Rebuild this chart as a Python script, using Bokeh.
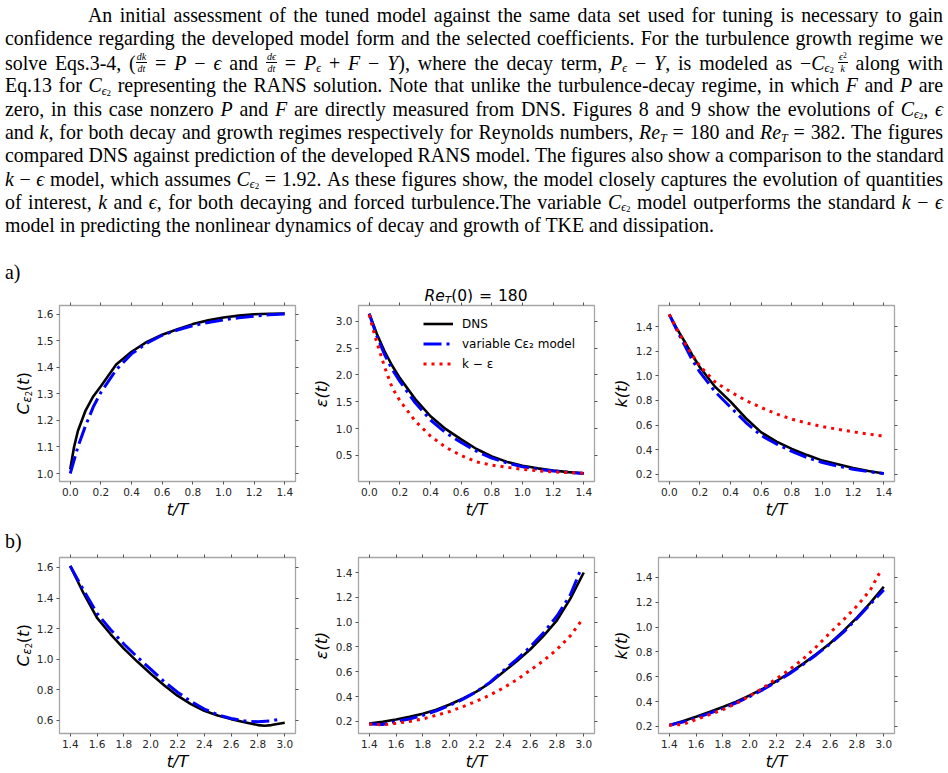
import numpy as np
from bokeh.plotting import figure
from bokeh.models import (Range1d, LinearAxis, FixedTicker, CustomJSTickFormatter,
                          PrintfTickFormatter, Legend, LegendItem, Div)
from bokeh.layouts import column, row
from bokeh.embed import file_html
from bokeh.resources import INLINE

# ---------------- data ----------------
# a) decaying turbulence, Re_T(0)=180
a1_t = [0.0, 0.025, 0.05, 0.1, 0.15, 0.2, 0.3, 0.4, 0.5, 0.6, 0.7, 0.8, 0.9, 1.0, 1.1, 1.2, 1.3, 1.4]
a1_dns = [1.016, 1.10, 1.16, 1.237, 1.29, 1.328, 1.41, 1.458, 1.495, 1.522, 1.543, 1.562, 1.576, 1.587, 1.594, 1.599, 1.601, 1.602]
a1_var = [1.0, 1.05, 1.10, 1.18, 1.25, 1.305, 1.39, 1.45, 1.49, 1.52, 1.54, 1.556, 1.568, 1.578, 1.586, 1.592, 1.597, 1.600]

a2_t = [0.0, 0.05, 0.1, 0.15, 0.2, 0.3, 0.4, 0.5, 0.6, 0.7, 0.8, 0.9, 1.0, 1.1, 1.2, 1.3, 1.4]
a2_dns = [3.14, 2.76, 2.44, 2.17, 1.94, 1.55, 1.23, 0.99, 0.80, 0.62, 0.48, 0.38, 0.31, 0.26, 0.22, 0.19, 0.17]
a2_var = [3.14, 2.72, 2.38, 2.10, 1.88, 1.48, 1.16, 0.92, 0.74, 0.58, 0.45, 0.36, 0.29, 0.245, 0.21, 0.185, 0.165]
a2_t_ke = [0.0, 0.025, 0.05, 0.075, 0.1, 0.15, 0.2, 0.25, 0.3, 0.4, 0.5, 0.6, 0.7, 0.8, 0.9, 1.0, 1.1, 1.2, 1.3, 1.4]
a2_ke = [3.12, 2.85, 2.60, 2.38, 2.15, 1.76, 1.52, 1.33, 1.14, 0.86, 0.65, 0.50, 0.38, 0.32, 0.28, 0.24, 0.215, 0.195, 0.18, 0.17]

a3_t = [0.0, 0.05, 0.1, 0.15, 0.2, 0.3, 0.4, 0.5, 0.6, 0.7, 0.8, 0.9, 1.0, 1.1, 1.2, 1.3, 1.4]
a3_dns = [1.50, 1.385, 1.28, 1.17, 1.07, 0.91, 0.79, 0.655, 0.54, 0.465, 0.405, 0.355, 0.31, 0.28, 0.25, 0.225, 0.205]
a3_var = [1.50, 1.37, 1.25, 1.13, 1.03, 0.87, 0.745, 0.62, 0.515, 0.445, 0.385, 0.335, 0.295, 0.265, 0.24, 0.22, 0.205]
a3_ke = [1.50, 1.38, 1.27, 1.17, 1.08, 0.95, 0.87, 0.80, 0.742, 0.69, 0.647, 0.615, 0.587, 0.565, 0.544, 0.526, 0.51]

# b) forced (growing) turbulence
b1_t = [1.4, 1.5, 1.6, 1.7, 1.8, 1.9, 2.0, 2.1, 2.2, 2.3, 2.4, 2.5, 2.6, 2.7, 2.8, 2.85, 2.9, 3.0]
b1_dns = [1.61, 1.43, 1.27, 1.165, 1.07, 0.985, 0.905, 0.83, 0.762, 0.707, 0.663, 0.632, 0.609, 0.588, 0.57, 0.566, 0.57, 0.585]
b1_t_var = [1.4, 1.5, 1.6, 1.7, 1.8, 1.9, 2.0, 2.1, 2.2, 2.3, 2.4, 2.5, 2.6, 2.7, 2.8, 2.9, 2.96]
b1_var = [1.61, 1.45, 1.30, 1.195, 1.10, 1.015, 0.935, 0.855, 0.785, 0.725, 0.675, 0.638, 0.613, 0.597, 0.591, 0.598, 0.608]

b2_t = [1.4, 1.5, 1.6, 1.7, 1.8, 1.9, 2.0, 2.1, 2.2, 2.3, 2.4, 2.5, 2.6, 2.7, 2.8, 2.9, 3.0]
b2_dns = [0.184, 0.198, 0.216, 0.237, 0.262, 0.295, 0.337, 0.385, 0.44, 0.51, 0.598, 0.685, 0.78, 0.89, 1.015, 1.19, 1.40]
b2_t_var = [1.4, 1.5, 1.6, 1.7, 1.8, 1.9, 2.0, 2.1, 2.2, 2.3, 2.4, 2.5, 2.6, 2.7, 2.8, 2.9, 2.98]
b2_var = [0.18, 0.175, 0.20, 0.22, 0.25, 0.285, 0.33, 0.38, 0.44, 0.515, 0.61, 0.70, 0.80, 0.915, 1.05, 1.22, 1.43]
b2_t_ke = [1.4, 1.5, 1.6, 1.7, 1.8, 1.9, 2.0, 2.1, 2.2, 2.3, 2.4, 2.5, 2.6, 2.7, 2.8, 2.9, 2.99]
b2_ke = [0.18, 0.172, 0.185, 0.20, 0.22, 0.25, 0.28, 0.32, 0.364, 0.413, 0.47, 0.535, 0.612, 0.69, 0.78, 0.89, 1.023]

b3_t = [1.4, 1.5, 1.6, 1.7, 1.8, 1.9, 2.0, 2.1, 2.2, 2.3, 2.4, 2.5, 2.6, 2.7, 2.8, 2.9, 3.0]
b3_dns = [0.21, 0.242, 0.278, 0.316, 0.356, 0.40, 0.45, 0.505, 0.566, 0.633, 0.706, 0.785, 0.87, 0.97, 1.077, 1.195, 1.325]
b3_var = [0.21, 0.235, 0.268, 0.305, 0.345, 0.39, 0.44, 0.497, 0.56, 0.627, 0.70, 0.78, 0.865, 0.96, 1.07, 1.185, 1.30]
b3_t_ke = [1.4, 1.5, 1.6, 1.7, 1.8, 1.9, 2.0, 2.1, 2.2, 2.3, 2.4, 2.5, 2.6, 2.7, 2.8, 2.9, 2.98]
b3_ke = [0.21, 0.215, 0.255, 0.295, 0.335, 0.385, 0.445, 0.51, 0.585, 0.66, 0.745, 0.845, 0.955, 1.06, 1.17, 1.30, 1.46]

# axis ranges and ticks
xr_a = (-0.07, 1.47)
xr_b = (1.32, 3.08)
yr_a1 = (0.97, 1.632)
yr_a2 = (0.015, 3.292)
yr_a3 = (0.14, 1.573)
yr_b1 = (0.515, 1.665)
yr_b2 = (0.103, 1.521)
yr_b3 = (0.143, 1.561)
xt_a = [0.0, 0.2, 0.4, 0.6, 0.8, 1.0, 1.2, 1.4]
xt_b = [1.4, 1.6, 1.8, 2.0, 2.2, 2.4, 2.6, 2.8, 3.0]
yt_a1 = [1.0, 1.1, 1.2, 1.3, 1.4, 1.5, 1.6]
yt_a2 = [0.5, 1.0, 1.5, 2.0, 2.5, 3.0]
yt_k = [0.2, 0.4, 0.6, 0.8, 1.0, 1.2, 1.4]
yt_b1 = [0.6, 0.8, 1.0, 1.2, 1.4, 1.6]

legend_labels = ["DNS", "variable C\u03b5\u2082 model", "k \u2212 \u03b5"]

# ---------------- styling helpers ----------------
FRAME_C = "#a6a6a6"
TICK_C = "#555555"
SANS = "DejaVu Sans"
BLACK, BLUE, RED = "#000000", "#0000ff", "#ff0000"


def style_axis(ax, ticks, show_labels):
    ax.ticker = FixedTicker(ticks=ticks)
    ax.axis_line_color = None
    ax.major_tick_line_color = TICK_C
    ax.major_tick_line_width = 1
    ax.major_tick_out = 3
    ax.major_tick_in = 0
    ax.minor_tick_line_color = None
    if show_labels:
        ax.formatter = PrintfTickFormatter(format="%.1f")
        ax.major_label_text_font = SANS
        ax.major_label_text_font_size = "10.5px"
        ax.major_label_text_color = "#262626"
        ax.major_label_standoff = 3
    else:
        ax.formatter = CustomJSTickFormatter(code="return ''")
        ax.major_label_text_font_size = "0px"
        ax.major_label_standoff = 0


def panel(w, h, bl, bt, br, bb, xr, yr, xt, yt, ylabel=None):
    p = figure(width=w, height=h, x_range=Range1d(*xr), y_range=Range1d(*yr),
               output_backend="svg", toolbar_location=None,
               min_border_left=bl, min_border_top=bt, min_border_right=br, min_border_bottom=bb,
               background_fill_color="white", border_fill_color="white")
    p.margin = 0
    p.xgrid.visible = False
    p.ygrid.visible = False
    p.outline_line_color = FRAME_C
    p.outline_line_width = 1.3
    style_axis(p.xaxis[0], xt, True)
    style_axis(p.yaxis[0], yt, True)
    p.xaxis[0].axis_label = "t/T"
    p.xaxis[0].axis_label_text_font = SANS
    p.xaxis[0].axis_label_text_font_size = "16px"
    p.xaxis[0].axis_label_text_font_style = "italic"
    p.xaxis[0].axis_label_text_color = "black"
    p.xaxis[0].axis_label_standoff = 1
    if ylabel is not None:
        p.yaxis[0].axis_label = ylabel
        p.yaxis[0].axis_label_text_font = SANS
        p.yaxis[0].axis_label_text_font_size = "16px"
        p.yaxis[0].axis_label_text_font_style = "italic"
        p.yaxis[0].axis_label_text_color = "black"
        p.yaxis[0].axis_label_standoff = 2
    top = LinearAxis()
    style_axis(top, xt, False)
    p.add_layout(top, "above")
    right = LinearAxis()
    style_axis(right, yt, False)
    p.add_layout(right, "right")
    return p


def curves(p, t1, y1, t2, y2, t3=None, y3=None):
    r1 = p.line(t1, y1, line_color=BLACK, line_width=2.6)
    r2 = p.line(t2, y2, line_color=BLUE, line_width=3, line_dash="18 5 3 5")
    r3 = None
    if t3 is not None:
        r3 = p.line(t3, y3, line_color=RED, line_width=3, line_dash="3 5")
    return r1, r2, r3


# rotated HTML y-label  C_{eps_2}(t)
def ylabel_div(height, center_y):
    lab = ('<i>C</i><sub style="font-size:11.5px;vertical-align:-3px;line-height:0;"><i>\u03b5</i>'
           '<sub style="font-size:8.5px;vertical-align:-2px;line-height:0;">2</sub></sub>(<i>t</i>)')
    html = (f'<div style="position:relative;width:33px;height:{height}px;">'
            f'<div style="position:absolute;left:14px;top:{center_y - 40}px;height:80px;width:19px;'
            'display:flex;align-items:center;justify-content:center;">'
            '<span style="writing-mode:vertical-rl;transform:rotate(180deg);white-space:nowrap;'
            f'font-family:{SANS};font-size:16.5px;line-height:19px;color:#000;">{lab}</span>'
            '</div></div>')
    return Div(text=html, width=33, height=height, margin=0)


# ---------------- row a ----------------
f1 = panel(272, 228, 26, 3, 10, 49, xr_a, yr_a1, xt_a, yt_a1)
curves(f1, a1_t, a1_dns, a1_t, a1_var)

f2 = panel(299, 228, 53, 3, 10, 49, xr_a, yr_a2, xt_a, yt_a2, ylabel="\u03b5(t)")
r1, r2, r3 = curves(f2, a2_t, a2_dns, a2_t, a2_var, a2_t_ke, a2_ke)
leg = Legend(items=[LegendItem(label=legend_labels[0], renderers=[r1]),
                    LegendItem(label=legend_labels[1], renderers=[r2]),
                    LegendItem(label=legend_labels[2], renderers=[r3])],
             location=(65, 109))
leg.padding = 0
leg.margin = 0
leg.border_line_color = None
leg.background_fill_alpha = 0
leg.glyph_width = 30
leg.glyph_height = 17
leg.label_height = 17
leg.spacing = 3
leg.label_standoff = 9
leg.label_text_font = SANS
leg.label_text_font_size = "12px"
leg.label_text_color = "black"
f2.add_layout(leg)

f3 = panel(344, 228, 54, 3, 54, 49, xr_a, yr_a3, xt_a, yt_k, ylabel="k(t)")
curves(f3, a3_t, a3_dns, a3_t, a3_var, a3_t, a3_ke)

# ---------------- row b ----------------
f4 = panel(272, 221, 26, 5, 10, 40, xr_b, yr_b1, xt_b, yt_b1)
curves(f4, b1_t, b1_dns, b1_t_var, b1_var)

f5 = panel(299, 221, 53, 5, 10, 40, xr_b, yr_b2, xt_b, yt_k, ylabel="\u03b5(t)")
curves(f5, b2_t, b2_dns, b2_t_var, b2_var, b2_t_ke, b2_ke)

f6 = panel(344, 221, 54, 5, 54, 40, xr_b, yr_b3, xt_b, yt_k, ylabel="k(t)")
curves(f6, b3_t, b3_dns, b3_t, b3_var, b3_t_ke, b3_ke)

# ---------------- paragraph text ----------------
SERIF = "'Liberation Serif', 'Times New Roman', serif"
SUB = '<sub style="font-size:12px;vertical-align:-2.5px;line-height:0;">'
SUB2 = '<sub style="font-size:9px;vertical-align:-1px;line-height:0;">'
EPS = "\u03f5"


def frac(n, d):
    return ('<span style="display:inline-block;vertical-align:-2.6px;text-align:center;'
            'text-align-last:center;font-size:10px;line-height:11.5px;">'
            f'<span style="display:block;padding:0 1px;">{n}</span>'
            f'<span style="display:block;border-top:1px solid #000;padding:0 1px;">{d}</span></span>')


CE2 = f'<i>C</i>{SUB}<i>{EPS}</i>{SUB2}2</sub></sub>'
PE = f'<i>P</i>{SUB}<i>{EPS}</i></sub>'
RET = f'<i>Re</i>{SUB}<i>T</i></sub>'
E = f'<i>{EPS}</i>'
SUP2 = '<span style="font-size:7.5px;vertical-align:2px;line-height:0;">2</span>'

lines = [
    'An initial assessment of the tuned model against the same data set used for tuning is necessary to gain',
    'confidence regarding the developed model form and the selected coefficients. For the turbulence growth regime we',
    f'solve Eqs.3-4, ({frac("<i>dk</i>", "<i>dt</i>")} = <i>P</i> \u2212 {E} and {frac("<i>d" + EPS + "</i>", "<i>dt</i>")} = {PE} + <i>F</i> \u2212 <i>Y</i>), where the decay term, {PE} \u2212 <i>Y</i>, is modeled as \u2212{CE2}&#8201;{frac(E + SUP2, "<i>k</i>")} along with',
    f'Eq.13 for {CE2} representing the RANS solution. Note that unlike the turbulence-decay regime, in which <i>F</i> and <i>P</i> are',
    f'zero, in this case nonzero <i>P</i> and <i>F</i> are directly measured from DNS. Figures 8 and 9 show the evolutions of {CE2}, {E}',
    f'and <i>k</i>, for both decay and growth regimes respectively for Reynolds numbers, {RET} = 180 and {RET} = 382. The figures',
    'compared DNS against prediction of the developed RANS model. The figures also show a comparison to the standard',
    f'<i>k</i> \u2212 {E} model, which assumes {CE2} = 1.92. As these figures show, the model closely captures the evolution of quantities',
    f'of interest, <i>k</i> and {E}, for both decaying and forced turbulence.The variable {CE2} model outperforms the standard <i>k</i> \u2212 {E}',
    'model in predicting the nonlinear dynamics of decay and growth of TKE and dissipation.',
]

LH = 23.35
base_style = (f"position:absolute;font-family:{SERIF};font-size:19.9px;line-height:{LH}px;"
              "color:#000;white-space:nowrap;")
parts = []
for i, txt in enumerate(lines):
    top = 4.1 + LH * i
    last = i == len(lines) - 1
    left = 88 if i == 0 else 5
    width = 943 - left
    align = "text-align:left;" if last else "text-align:justify;text-align-last:justify;"
    parts.append(f'<div style="{base_style}left:{left}px;top:{top:.2f}px;width:{width}px;{align}">{txt}</div>')
parts.append(f'<div style="{base_style}left:5px;top:261px;">a)</div>')
# panel title  Re_T(0) = 180
parts.append(f'<div style="position:absolute;left:376px;top:286.6px;width:200px;text-align:center;'
             f'font-family:{SANS};font-size:15.5px;line-height:18px;color:#000;white-space:nowrap;">'
             '<i>Re</i><sub style="font-size:10.5px;vertical-align:-3px;line-height:0;"><i>T</i></sub>'
             '(0) <span style="padding:0 1px;">=</span> 180</div>')
text_html = ('<div style="position:relative;width:948px;height:302px;overflow:visible;">'
             + "".join(parts) + '</div>')

div_text = Div(text=text_html, width=948, height=302, margin=0)
div_b = Div(text=(f'<div style="position:relative;width:948px;height:22px;">'
                  f'<div style="{base_style}left:5px;top:0px;">b)</div></div>'),
            width=948, height=22, margin=0)

layout = column(div_text,
                row(ylabel_div(228, 91), f1, f2, f3, spacing=0),
                div_b,
                row(ylabel_div(221, 93), f4, f5, f6, spacing=0),
                spacing=0)

open("out.html", "w").write(file_html(layout, INLINE))
